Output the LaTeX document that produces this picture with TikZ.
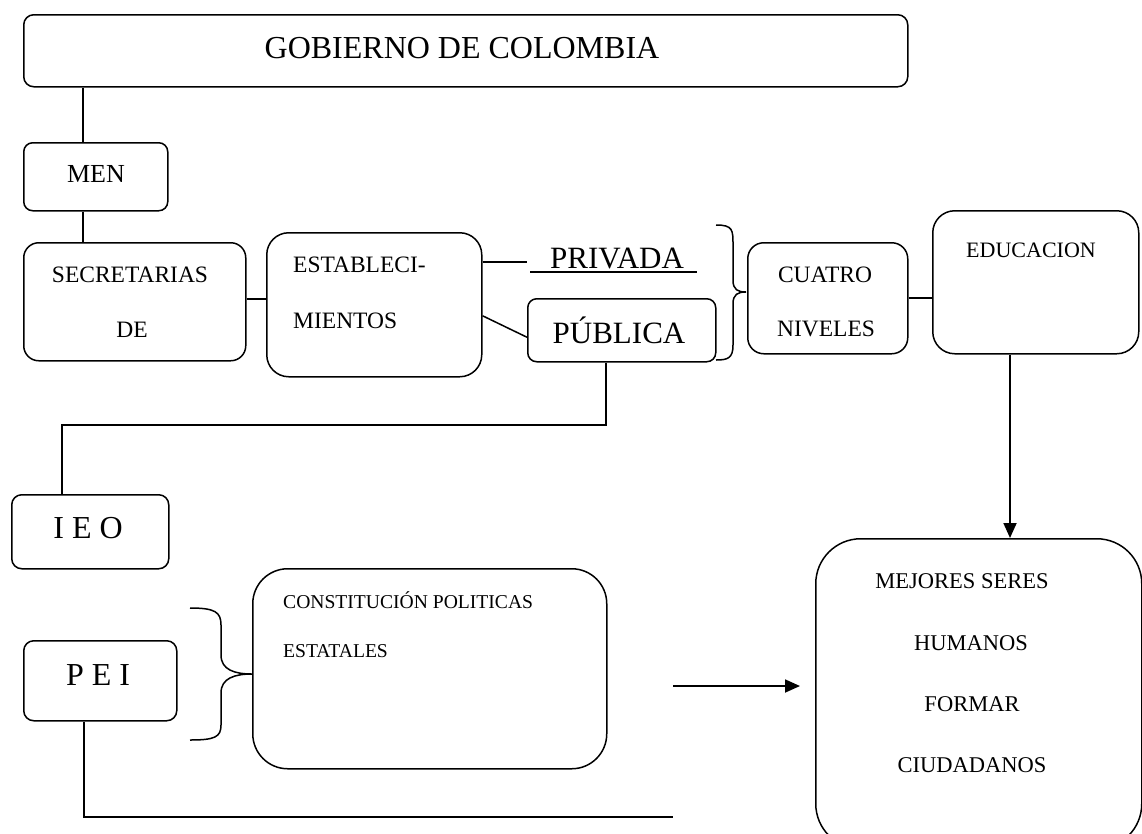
\documentclass[tikz,border=0pt]{standalone}
\usepackage{fontspec}
\setmainfont{Liberation Serif}
\usetikzlibrary{arrows.meta}
\newcommand{\fs}[1]{\fontsize{#1}{#1}\selectfont}
\tikzset{
  box/.style={draw, line width=1.5pt, inner sep=0pt, anchor=north west},
  txt/.style={inner sep=0pt, anchor=base},
  txtl/.style={inner sep=0pt, anchor=base west},
  conn/.style={line width=1.5pt},
  arr/.style={line width=1.8pt, -{Triangle[length=15pt,width=13pt]}}
}
\begin{document}
\begin{tikzpicture}[x=1pt,y=-1pt]
\clip (0,0) rectangle (1142,833);
\fill[white] (0,0) rectangle (1142,833);
% boxes
\node[box, rounded corners=10pt, minimum width=884pt, minimum height=72pt] (gob) at (23,14) {};
\node[box, rounded corners=9pt, minimum width=144pt, minimum height=68pt] (men) at (23,142) {};
\node[box, rounded corners=15pt, minimum width=222pt, minimum height=118pt] (sec) at (23,242) {};
\node[box, rounded corners=22pt, minimum width=215pt, minimum height=144pt] (est) at (266,232) {};
\node[box, rounded corners=9pt, minimum width=188pt, minimum height=63pt] (pub) at (527,298) {};
\node[box, rounded corners=16pt, minimum width=160pt, minimum height=111pt] (cua) at (747,242) {};
\node[box, rounded corners=22pt, minimum width=206pt, minimum height=143pt] (edu) at (932,210) {};
\node[box, rounded corners=45pt, minimum width=326pt, minimum height=310pt] (mej) at (815,538) {};
\node[box, rounded corners=35pt, minimum width=354pt, minimum height=200pt] (con) at (252,568) {};
\node[box, rounded corners=10pt, minimum width=157pt, minimum height=74pt] (ieo) at (11,494) {};
\node[box, rounded corners=10pt, minimum width=153pt, minimum height=80pt] (pei) at (23,640) {};
% texts
\node[txt] (tgob) at (462,58) {\fs{32}GOBIERNO DE COLOMBIA};
\node[txt] (tmen) at (96,182) {\fs{26}MEN};
\node[txt] (tsec1) at (130,282) {\fs{23.5}SECRETARIAS};
\node[txt] (tsec2) at (132,337) {\fs{23.5}DE};
\node[txtl] (test1) at (293,272) {\fs{23.5}ESTABLECI-};
\node[txtl] (test2) at (293,328) {\fs{23.5}MIENTOS};
\node[txt] (priv) at (617,268) {\fs{31}PRIVADA};
\node[txt] (tpub) at (619,343) {\fs{31}PÚBLICA};
\node[txt] (tcua1) at (825,282) {\fs{23.5}CUATRO};
\node[txt] (tcua2) at (826,336) {\fs{23.5}NIVELES};
\node[txt] (tedu) at (1031,257) {\fs{22}EDUCACION};
\node[txt] (tieo) at (88,538) {\fs{32}I E O};
\node[txt] (tpei) at (98,685) {\fs{32}P E I};
\node[txtl] (tcon1) at (283,608) {\fs{19.6}CONSTITUCIÓN POLITICAS};
\node[txtl] (tcon2) at (283,657) {\fs{19.6}ESTATALES};
\node[txt] (tmej1) at (962,588) {\fs{22.5}MEJORES SERES};
\node[txt] (tmej2) at (971,650) {\fs{22.5}HUMANOS};
\node[txt] (tmej3) at (972,711) {\fs{22.5}FORMAR};
\node[txt] (tmej4) at (972,772) {\fs{22.5}CIUDADANOS};
% helper coordinates
\coordinate (c83) at (83,0);
\coordinate (ul1) at (530,272);
\coordinate (ul2) at (697,272);
\coordinate (privL) at (527,262);
\coordinate (k1) at (606,425);
\coordinate (k2) at (62,425);
\coordinate (c1010) at (1010,0);
\coordinate (a1) at (673,686);
\coordinate (a2) at (800,686);
\coordinate (p1) at (84,817);
\coordinate (p2) at (673,817);
% connectors
\draw[conn] (gob.south -| c83) -- (men.north -| c83);
\draw[conn] (men.south -| c83) -- (sec.north -| c83);
\draw[conn] ([yshift=3pt]sec.east) -- ([yshift=3pt]sec.east -| est.west);
\draw[conn] (ul1) -- (ul2);
\draw[conn] (est.east |- privL) -- (privL);
\draw[conn] ([yshift=-11pt]est.east) -- ([yshift=-7pt]pub.west);
\draw[conn] (pub.south -| k1) -- (k1) -- (k2) -- (ieo.north -| k2);
\draw[conn] ([yshift=0.5pt]cua.east) -- ([yshift=0.5pt]cua.east -| edu.west);
\draw[arr] (edu.south -| c1010) -- (mej.north -| c1010);
\draw[arr] (a1) -- (a2);
\draw[conn] (pei.south -| p1) -- (p1) -- (p2);
% braces
\draw[conn] (716,225) .. controls (733,225) and (733,230) .. (733,245) -- (733,280)
  .. controls (733,290) and (738,292) .. (746,292)
  .. controls (738,292) and (733,294) .. (733,304) -- (733,345)
  .. controls (733,358) and (728,360) .. (716,360);
\draw[conn] (190,608) .. controls (215,608) and (221,612) .. (221,625) -- (221,655)
  .. controls (221,670) and (235,674) .. (252,674)
  .. controls (235,674) and (221,678) .. (221,693) -- (221,725)
  .. controls (221,737) and (215,740) .. (190,740);
\end{tikzpicture}
\end{document}
